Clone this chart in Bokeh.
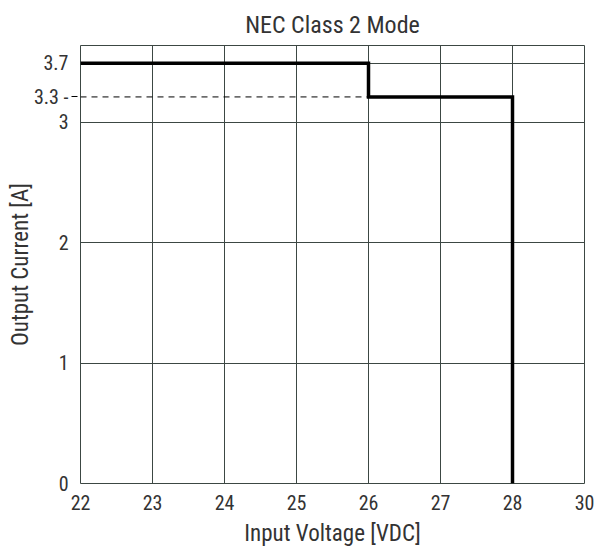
from bokeh.plotting import figure
from bokeh.models import FixedTicker, Range1d, ColumnDataSource
from bokeh.embed import file_html
from bokeh.resources import INLINE

TITLE = "NEC Class 2 Mode"
X_LABEL = "Input Voltage [VDC]"
Y_LABEL = "Output Current [A]"

# derating curve (step)
VOLTAGE = [22, 26, 26, 28, 28]
CURRENT = [3.7, 3.7, 3.3, 3.3, 0]

X_TICKS = [22, 23, 24, 25, 26, 27, 28, 30]
Y_TICKS = [0, 1, 2, 3, 3.3, 3.7]
Y_GRID = [0, 1, 2, 3, 3.7]
REF_CURRENT = 3.3
REF_VOLTAGE_END = 26
X_MIN, X_MAX = 22, 30
Y_MIN, Y_MAX = 0, 3.91

# the chart's axes are broken: compressed above these values
X_BREAK, X_K = 28, 0.5
Y_BREAK, Y_K = 3, 0.7


def broken(v, brk, k):
    return v if v <= brk else brk + (v - brk) * k


def xpos(v):
    return broken(v, X_BREAK, X_K)


def ypos(v):
    return broken(v, Y_BREAK, Y_K)


FONT = "Roboto Condensed, Liberation Sans Narrow, Roboto"
TEXT = "#333333"
GRID = "#3c4743"

p = figure(
    width=596, height=549,
    min_border_left=80, min_border_right=12, min_border_top=45, min_border_bottom=66,
    x_range=Range1d(xpos(X_MIN), xpos(X_MAX)),
    y_range=Range1d(ypos(Y_MIN), ypos(Y_MAX)),
    output_backend="svg", toolbar_location=None, title=TITLE,
)
p.background_fill_color = "white"
p.border_fill_color = "white"
p.outline_line_color = GRID
p.outline_line_width = 1

p.title.align = "center"
p.title.text_font = FONT
p.title.text_font_size = "24px"
p.title.text_font_style = "normal"
p.title.text_color = TEXT
p.title.standoff = 13

src = ColumnDataSource(dict(x=[xpos(v) for v in VOLTAGE], y=[ypos(v) for v in CURRENT]))
p.line("x", "y", source=src, line_width=3.5, line_color="black", line_join="miter")

# dashed reference level inside the frame
ref = ColumnDataSource(dict(x=[xpos(X_MIN), xpos(REF_VOLTAGE_END)],
                            y=[ypos(REF_CURRENT), ypos(REF_CURRENT)]))
p.line("x", "y", source=ref, line_dash="6 5", line_width=1, line_color="black")

xt = [xpos(v) for v in X_TICKS]
yt = [ypos(v) for v in Y_TICKS]
p.xaxis.ticker = FixedTicker(ticks=xt)
p.xaxis.major_label_overrides = {pos: str(v) for pos, v in zip(xt, X_TICKS)}
# the reference level continues as a dashed stub outside the frame (minor tick)
p.yaxis.ticker = FixedTicker(ticks=yt, minor_ticks=[ypos(REF_CURRENT)])
labels = {pos: f"{v:g}" for pos, v in zip(yt, Y_TICKS)}
labels[ypos(REF_CURRENT)] = f"{REF_CURRENT:g} -"
p.yaxis.major_label_overrides = labels
p.xgrid.ticker = FixedTicker(ticks=xt)
p.ygrid.ticker = FixedTicker(ticks=[ypos(v) for v in Y_GRID])
for g in (p.xgrid, p.ygrid):
    g.grid_line_color = GRID
    g.grid_line_width = 1
    g.grid_line_alpha = 1

for ax in (p.xaxis, p.yaxis):
    ax.axis_line_color = None
    ax.major_tick_line_color = None
    ax.minor_tick_line_color = None
    ax.major_label_text_font = FONT
    ax.major_label_text_font_size = "20px"
    ax.major_label_text_color = TEXT
    ax.axis_label_text_font = FONT
    ax.axis_label_text_font_size = "23px"
    ax.axis_label_text_font_style = "normal"
    ax.axis_label_text_color = TEXT

p.yaxis.minor_tick_line_color = "black"
p.yaxis.minor_tick_line_width = 1
p.yaxis.minor_tick_line_dash = "6 5"
p.yaxis.minor_tick_in = 0
p.yaxis.minor_tick_out = 9
p.yaxis.major_tick_in = 0
p.yaxis.major_tick_out = 0

p.xaxis.axis_label = X_LABEL
p.yaxis.axis_label = Y_LABEL
p.xaxis.major_label_standoff = 5
p.xaxis.axis_label_standoff = 7
p.yaxis.major_label_standoff = 3
p.yaxis.axis_label_standoff = -3

open("out.html", "w").write(file_html(p, INLINE))
